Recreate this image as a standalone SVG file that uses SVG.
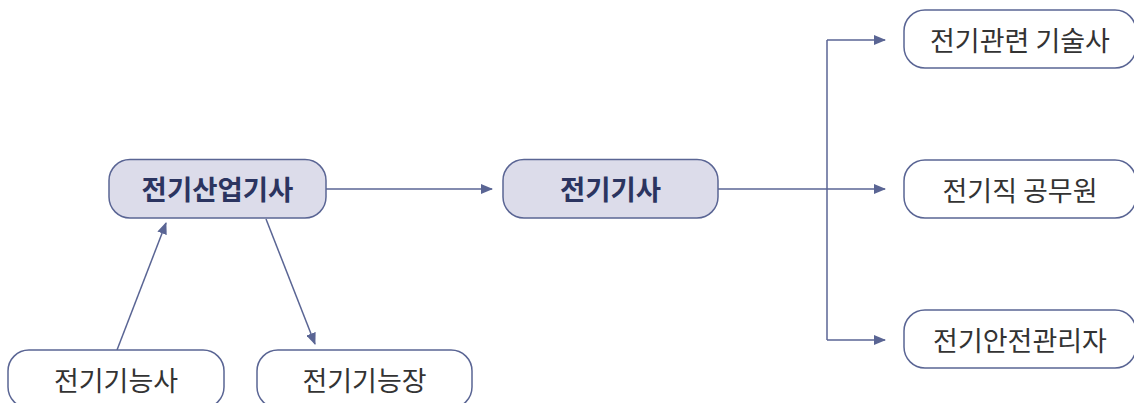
<svg xmlns="http://www.w3.org/2000/svg" width="1134" height="403" viewBox="0 0 1134 403">
<style>
.box{fill:#ffffff;stroke:#5a6594;stroke-width:1.5}
.main{fill:#dcdcea;stroke:#5a6594;stroke-width:1.5}
.t{font-family:"Noto Sans CJK KR","Noto Sans",sans-serif;font-size:27px;fill:#333333;text-anchor:middle}
.tb{font-family:"Noto Sans CJK KR","Noto Sans",sans-serif;font-size:27.5px;font-weight:bold;fill:#2b3460;text-anchor:middle}
.c{fill:none;stroke:#5a6594;stroke-width:1.5}
</style>
<defs>
<marker id="ah" markerUnits="userSpaceOnUse" markerWidth="12" markerHeight="10" refX="11" refY="5" orient="auto">
<path d="M0,0 L12,5 L0,10 Z" fill="#5a6594"/>
</marker>
</defs>
<g id="connectors">
<line class="c" x1="326" y1="189" x2="492" y2="189" marker-end="url(#ah)"/>
<line class="c" x1="718" y1="189" x2="885" y2="189" marker-end="url(#ah)"/>
<line class="c" x1="827" y1="40" x2="827" y2="340"/>
<line class="c" x1="827" y1="40" x2="885" y2="40" marker-end="url(#ah)"/>
<line class="c" x1="827" y1="340" x2="885" y2="340" marker-end="url(#ah)"/>
<line class="c" x1="117" y1="350" x2="166" y2="223" marker-end="url(#ah)"/>
<line class="c" x1="266" y1="219" x2="315" y2="344" marker-end="url(#ah)"/>
</g>
<g id="n1"><rect class="main" x="109" y="159.5" width="217" height="58.5" rx="21"/><text class="tb" x="217.5" y="200">전기산업기사</text></g>
<g id="n2"><rect class="main" x="503" y="159.5" width="215" height="58.5" rx="21"/><text class="tb" x="610.5" y="200">전기기사</text></g>
<g id="n3"><rect class="box" x="8" y="350" width="216" height="58" rx="21"/><text class="t" x="116" y="391">전기기능사</text></g>
<g id="n4"><rect class="box" x="257" y="350" width="215" height="58" rx="21"/><text class="t" x="364.5" y="391">전기기능장</text></g>
<g id="n5"><rect class="box" x="904" y="10" width="232" height="58" rx="21"/><text class="t" x="1020" y="51">전기관련 기술사</text></g>
<g id="n6"><rect class="box" x="904" y="160" width="232" height="58" rx="21"/><text class="t" x="1020" y="201">전기직 공무원</text></g>
<g id="n7"><rect class="box" x="904" y="310" width="232" height="58" rx="21"/><text class="t" x="1020" y="351">전기안전관리자</text></g>
</svg>
